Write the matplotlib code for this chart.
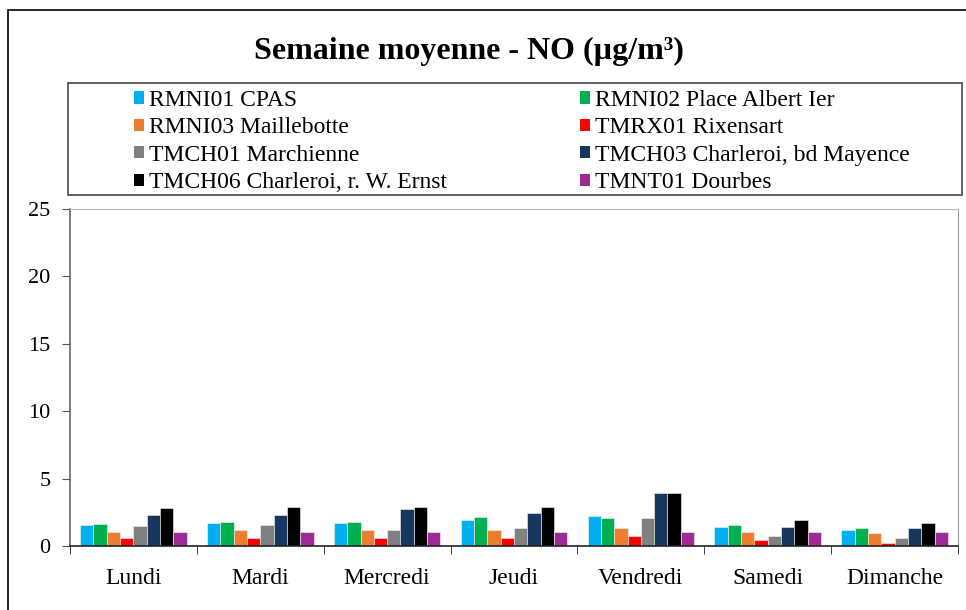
import numpy as np
import matplotlib.pyplot as plt
from matplotlib.patches import Patch, Rectangle

plt.rcParams['font.family'] = ['Liberation Serif', 'DejaVu Serif']

days = ['Lundi', 'Mardi', 'Mercredi', 'Jeudi', 'Vendredi', 'Samedi', 'Dimanche']
stations = [
    'RMNI01 CPAS', 'RMNI02 Place Albert Ier', 'RMNI03 Maillebotte',
    'TMRX01 Rixensart', 'TMCH01 Marchienne', 'TMCH03 Charleroi, bd Mayence',
    'TMCH06 Charleroi, r. W. Ernst', 'TMNT01 Dourbes',
]
colors = ['#00B0F0', '#00B050', '#ED7D31', '#FF0000',
          '#808080', '#17375E', '#000000', '#9E2A96']

# moyennes journalieres par station (ug/m3)
rmni01 = [1.55, 1.73, 1.73, 1.90, 2.19, 1.41, 1.16]
rmni02 = [1.65, 1.80, 1.80, 2.12, 2.05, 1.55, 1.31]
rmni03 = [1.06, 1.16, 1.16, 1.16, 1.31, 1.06, 0.99]
tmrx01 = [0.59, 0.59, 0.59, 0.59, 0.74, 0.42, 0.25]
tmch01 = [1.45, 1.55, 1.16, 1.31, 2.05, 0.74, 0.59]
tmch03 = [2.27, 2.27, 2.71, 2.44, 3.90, 1.41, 1.31]
tmch06 = [2.79, 2.86, 2.86, 2.93, 3.90, 1.90, 1.73]
tmnt01 = [1.01, 1.01, 1.01, 1.01, 1.06, 1.01, 1.01]
series = [rmni01, rmni02, rmni03, tmrx01, tmch01, tmch03, tmch06, tmnt01]

W, H = 966, 610
fig = plt.figure(figsize=(W / 100, H / 100), dpi=100)
ax = fig.add_axes([70 / W, 1 - 546 / H, 888 / W, 337 / H])

n = len(series)
bw = 0.84 / n
x = np.arange(len(days))
for i, (vals, col) in enumerate(zip(series, colors)):
    ax.bar(x - 0.42 + bw * (i + 0.5), vals, width=bw, color=col,
           edgecolor='#f4f4f4', linewidth=0.4)

ax.set_xlim(-0.5, len(days) - 0.5)
ax.set_ylim(0, 25)
ax.set_yticks(range(0, 26, 5))
ax.set_xticks(x)
ax.set_xticklabels(days)
ax.set_xticks(np.arange(-0.5, len(days)), minor=True)
ax.tick_params(axis='x', which='major', length=0, pad=16, labelsize=17)
ax.tick_params(axis='x', which='minor', length=6, color='#222222', direction='out')
ax.tick_params(axis='y', length=6, color='#555555', labelsize=16, pad=8)

ax.spines['left'].set_color('#666666')
ax.spines['left'].set_linewidth(1.2)
ax.spines['bottom'].set_color('#222222')
ax.spines['bottom'].set_linewidth(1.2)
ax.spines['top'].set_color('#bbbbbb')
ax.spines['right'].set_color('#999999')

fig.text(469 / W, 1 - 51 / H, 'Semaine moyenne - NO (µg/m³)', ha='center',
         va='center', fontsize=23, fontweight='bold')

# cadre de la legende
fig.patches.append(Rectangle((68 / W, 1 - 195 / H), 894 / W, 112 / H,
                             transform=fig.transFigure, fill=False,
                             edgecolor='#555555', linewidth=1.3))
# remplissage par lignes : on reordonne pour ncol=2
order = [0, 2, 4, 6, 1, 3, 5, 7]
handles = [Patch(facecolor=colors[k], edgecolor='none') for k in order]
labels = [stations[k] for k in order]
fig.legend(handles, labels, loc='upper left',
           bbox_to_anchor=(134 / W, 1 - 90 / H), ncol=2, frameon=False,
           fontsize=17, handlelength=0.42, handleheight=0.42,
           handletextpad=0.2, labelspacing=0.27, columnspacing=5.65,
           borderaxespad=0, borderpad=0)

# cadre exterieur (coupe a droite et en bas)
fig.patches.append(Rectangle((8 / W, -0.05), 1.0, 1.05 - 10 / H,
                             transform=fig.transFigure, fill=False,
                             edgecolor='black', linewidth=1.2))

fig.savefig('out.png', dpi=100)
